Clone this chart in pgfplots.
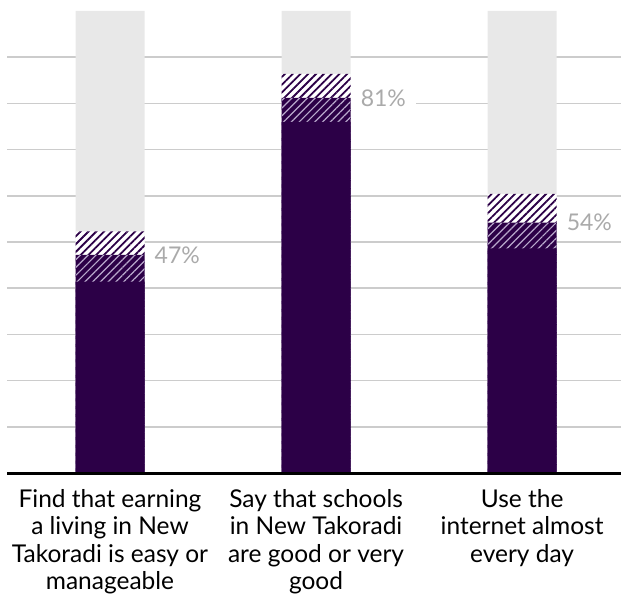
\documentclass[border=0pt]{standalone}
\usepackage{fontspec}
\setmainfont{Lato}
\usepackage{pgfplots}
\pgfplotsset{compat=1.18}
\usetikzlibrary{patterns.meta}
\definecolor{dpurple}{HTML}{2C0047}
\definecolor{bggray}{HTML}{E8E8E8}
\definecolor{gridgray}{HTML}{CCCCCC}
\definecolor{lblgray}{HTML}{AAAAAA}
\definecolor{lightstripe}{HTML}{B9A9CC}
\begin{document}
\begin{tikzpicture}
\begin{axis}[
  scale only axis, width=614pt, height=462pt,
  xmin=-0.5, xmax=2.48, ymin=0, ymax=100,
  axis line style={draw=none},
  xtick={0,1,2},
  xticklabels={{Find that earning\\a living in New\\Takoradi is easy or\\manageable},{Say that schools\\in New Takoradi\\are good or very\\good},{Use the\\internet almost\\every day}},
  major tick length=0pt,
  ytick={10,20,...,90}, yticklabels={},
  ymajorgrids, grid style={gridgray, line width=1.5pt},
  xticklabel style={align=center, font=\fontsize{24.5}{27.5}\selectfont, anchor=north, yshift=-16pt, inner sep=0pt},
  clip=false,
]
\addplot[ybar, bar width=69pt, bar shift=0pt, fill=bggray, draw=none] coordinates {(0,100) (1,100) (2,100)};
\addplot[ybar, bar width=69pt, bar shift=0pt, fill=white, draw=none, postaction={pattern={Lines[angle=45,distance=5.5pt,line width=1.8pt]}, pattern color=dpurple}] coordinates {(0,52.3) (1,86.4) (2,60.4)};
\addplot[ybar, bar width=69pt, bar shift=0pt, fill=dpurple, draw=none, postaction={pattern={Lines[angle=45,distance=5.5pt,line width=1.2pt]}, pattern color=lightstripe}] coordinates {(0,47.2) (1,81.2) (2,54.2)};
\addplot[ybar, bar width=69pt, bar shift=0pt, fill=dpurple, draw=none] coordinates {(0,41.4) (1,76.0) (2,48.6)};
\draw[black, line width=3pt] (axis cs:-0.5,0) -- (axis cs:2.48,0);
\node[anchor=west, fill=white, inner xsep=10pt, inner ysep=2pt, text=lblgray, font=\fontsize{23}{23}\selectfont, xshift=34.5pt] at (axis cs:0,47.2) {47\%};
\node[anchor=west, fill=white, inner xsep=10pt, inner ysep=2pt, text=lblgray, font=\fontsize{23}{23}\selectfont, xshift=34.5pt] at (axis cs:1,81.2) {81\%};
\node[anchor=west, fill=white, inner xsep=10pt, inner ysep=2pt, text=lblgray, font=\fontsize{23}{23}\selectfont, xshift=34.5pt] at (axis cs:2,54.2) {54\%};
\end{axis}
\pgfresetboundingbox
\path (-7pt,-127pt) rectangle (614pt,473pt);
\end{tikzpicture}
\end{document}
